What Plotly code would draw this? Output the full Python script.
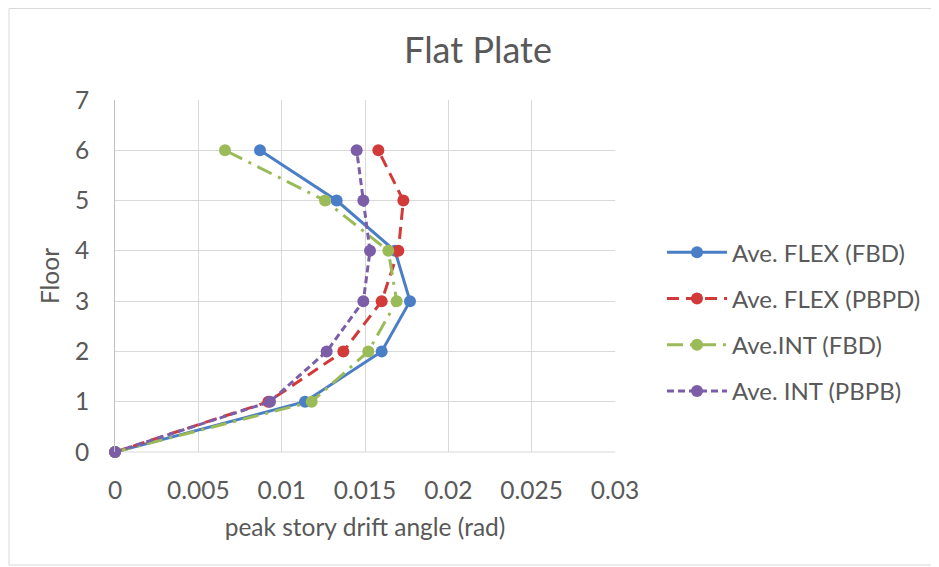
import plotly.graph_objects as go

floors = [0, 1, 2, 3, 4, 5, 6]
flex_fbd = [0, 0.0114, 0.0160, 0.0177, 0.0168, 0.0133, 0.0087]
flex_pbpd = [0, 0.0092, 0.0137, 0.0160, 0.0170, 0.0173, 0.0158]
int_fbd = [0, 0.0118, 0.0152, 0.0169, 0.0164, 0.0126, 0.0066]
int_pbpb = [0, 0.0093, 0.0127, 0.0149, 0.0153, 0.0149, 0.0145]

names = ["Ave. FLEX (FBD)", "Ave. FLEX (PBPD)", "Ave.INT (FBD)", "Ave. INT (PBPB)"]
colors = ["#4A7EC7", "#D23A3A", "#9BBB59", "#7B5EA7"]
dashes = ["solid", "12px,7px", "16px,7px,3px,7px", "7px,4px"]
series = [flex_fbd, flex_pbpd, int_fbd, int_pbpb]

x_ticks = [0, 0.005, 0.01, 0.015, 0.02, 0.025, 0.03]
x_ticklabels = ["0", "0.005", "0.01", "0.015", "0.02", "0.025", "0.03"]

fig = go.Figure()
for name, col, dsh, vals in zip(names, colors, dashes, series):
    fig.add_trace(go.Scatter(
        x=vals, y=floors, name=name, mode="lines+markers",
        line=dict(color=col, width=3, dash=dsh),
        marker=dict(color=col, size=12),
        legendgroup=name, cliponaxis=False,
    ))

font_col = "#595959"
L, T, W, H = 107, 92, 500, 352
fig.update_layout(
    width=939, height=567,
    paper_bgcolor="white", plot_bgcolor="white",
    margin=dict(l=L, r=939 - L - W, t=T, b=567 - T - H),
    font=dict(family="Lato", color=font_col, size=24),
    title=dict(text="Flat Plate", x=470 / 939, xanchor="center",
               y=1 - 42 / 567, yanchor="middle",
               font=dict(size=36, color=font_col, family="Lato")),
    legend=dict(x=1.094, xanchor="left", y=0.37, yanchor="middle",
                font=dict(size=24, color=font_col), itemwidth=60,
                tracegroupgap=12, bgcolor="rgba(0,0,0,0)"),
    showlegend=True,
)
fig.update_xaxes(
    range=[0, 0.03], tickvals=x_ticks, ticktext=x_ticklabels,
    showgrid=True, gridcolor="#D9D9D9", gridwidth=1,
    zeroline=False, showline=False, ticks="",
    tickfont=dict(size=24.5),
    ticklabelstandoff=21,
    title=dict(text="peak story drift angle (rad)", font=dict(size=24.5, color=font_col), standoff=16),
)
fig.update_yaxes(
    range=[0, 7], dtick=1, tick0=0,
    showgrid=True, gridcolor="#D9D9D9", gridwidth=1,
    zeroline=False, showline=True, linecolor="#BFBFBF", linewidth=1, ticks="",
    tickfont=dict(size=24.5),
    ticklabelstandoff=20,
    title=dict(text="Floor", font=dict(size=24.5, color=font_col), standoff=8),
)
# bottom baseline
fig.add_shape(type="line", xref="paper", yref="paper", x0=0, x1=1, y0=0, y1=0,
              line=dict(color="#D9D9D9", width=1), layer="below")
# outer chart border
fig.add_shape(type="rect", xref="paper", yref="paper",
              x0=(1 - L) / W, x1=(928 - L) / W,
              y0=(T + H - 557) / H, y1=(T + H - 0.5) / H,
              line=dict(color="#D9D9D9", width=1))
fig.write_html("out.html")
